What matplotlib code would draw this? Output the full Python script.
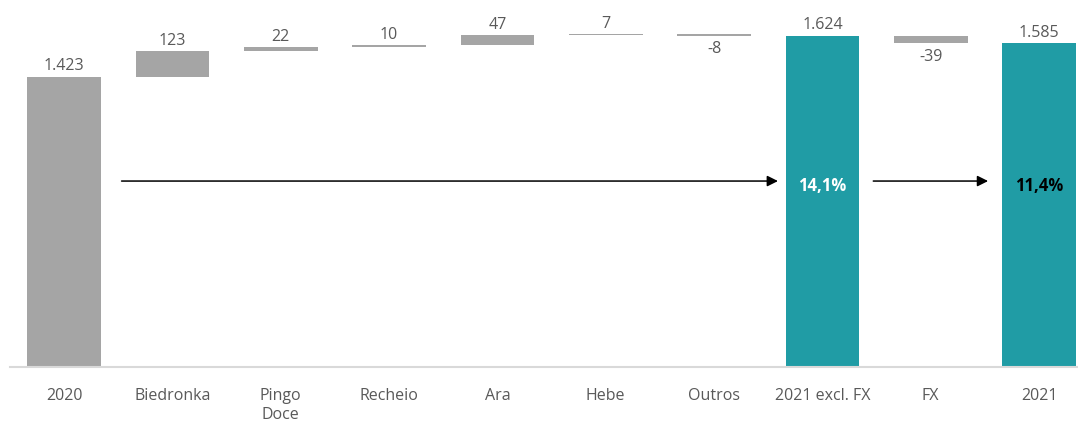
import matplotlib
matplotlib.use("Agg")
import matplotlib.pyplot as plt
import numpy as np

plt.rcParams['font.family'] = ['Open Sans', 'DejaVu Sans']

categories = ["2020", "Biedronka", "Pingo\nDoce", "Recheio", "Ara", "Hebe",
              "Outros", "2021 excl. FX", "FX", "2021"]
values = [1423, 123, 22, 10, 47, 7, -8, 1624, -39, 1585]
is_total = [True, False, False, False, False, False, False, True, False, True]
labels = ["1.423", "123", "22", "10", "47", "7", "-8", "1.624", "-39", "1.585"]
growth_labels = ["14,1%", "11,4%"]

GRAY = "#A5A5A5"
TEAL = "#209CA5"
TXT = "#595959"

fig = plt.figure(figsize=(10.78, 4.25), dpi=100)
ax = fig.add_axes([10 / 1078, 58 / 425, 1 - 10 / 1078, 1 - 58 / 425])

x = np.arange(len(categories))
running = 0
for i, (v, tot) in enumerate(zip(values, is_total)):
    if tot:
        bottom, height = 0, v
        running = v
        color = TEAL if i > 0 else GRAY
    else:
        bottom, height = running, v
        running += v
        color = GRAY
    ax.bar(x[i], height, bottom=bottom, width=0.68, color=color, edgecolor='none')
    top = max(bottom, bottom + height)
    low = min(bottom, bottom + height)
    if v >= 0:
        ax.annotate(labels[i], (x[i], top), xytext=(0, 1.5), textcoords='offset points',
                    ha='center', va='bottom', fontsize=11.5, color=TXT)
    else:
        ax.annotate(labels[i], (x[i], low), xytext=(0, -4), textcoords='offset points',
                    ha='center', va='top', fontsize=11.5, color=TXT)

arrow_y = 911
ax.annotate("", xy=(6.59, arrow_y), xytext=(0.53, arrow_y),
            arrowprops=dict(arrowstyle='-|>', color='black', lw=1.1, mutation_scale=16,
                            shrinkA=0, shrinkB=0))
ax.annotate("", xy=(8.53, arrow_y), xytext=(7.47, arrow_y),
            arrowprops=dict(arrowstyle='-|>', color='black', lw=1.1, mutation_scale=16,
                            shrinkA=0, shrinkB=0))
ax.text(7, arrow_y - 22, growth_labels[0], ha='center', va='center', color='white',
        fontsize=12, fontweight='bold')
ax.text(9, arrow_y - 22, growth_labels[1], ha='center', va='center', color='black',
        fontsize=12, fontweight='bold')

ax.set_xlim(-0.5, 9.36)
ax.set_ylim(0, 1798)
ax.set_xticks(x)
ax.set_xticklabels(categories, fontsize=11.5, color=TXT, linespacing=1.25, va='top')
ax.tick_params(axis='x', length=0, pad=15)
ax.set_yticks([])
for s in ['top', 'right', 'left']:
    ax.spines[s].set_visible(False)
ax.spines['bottom'].set_color('#D9D9D9')
ax.spines['bottom'].set_linewidth(1.5)

fig.savefig("out.png", dpi=100)
